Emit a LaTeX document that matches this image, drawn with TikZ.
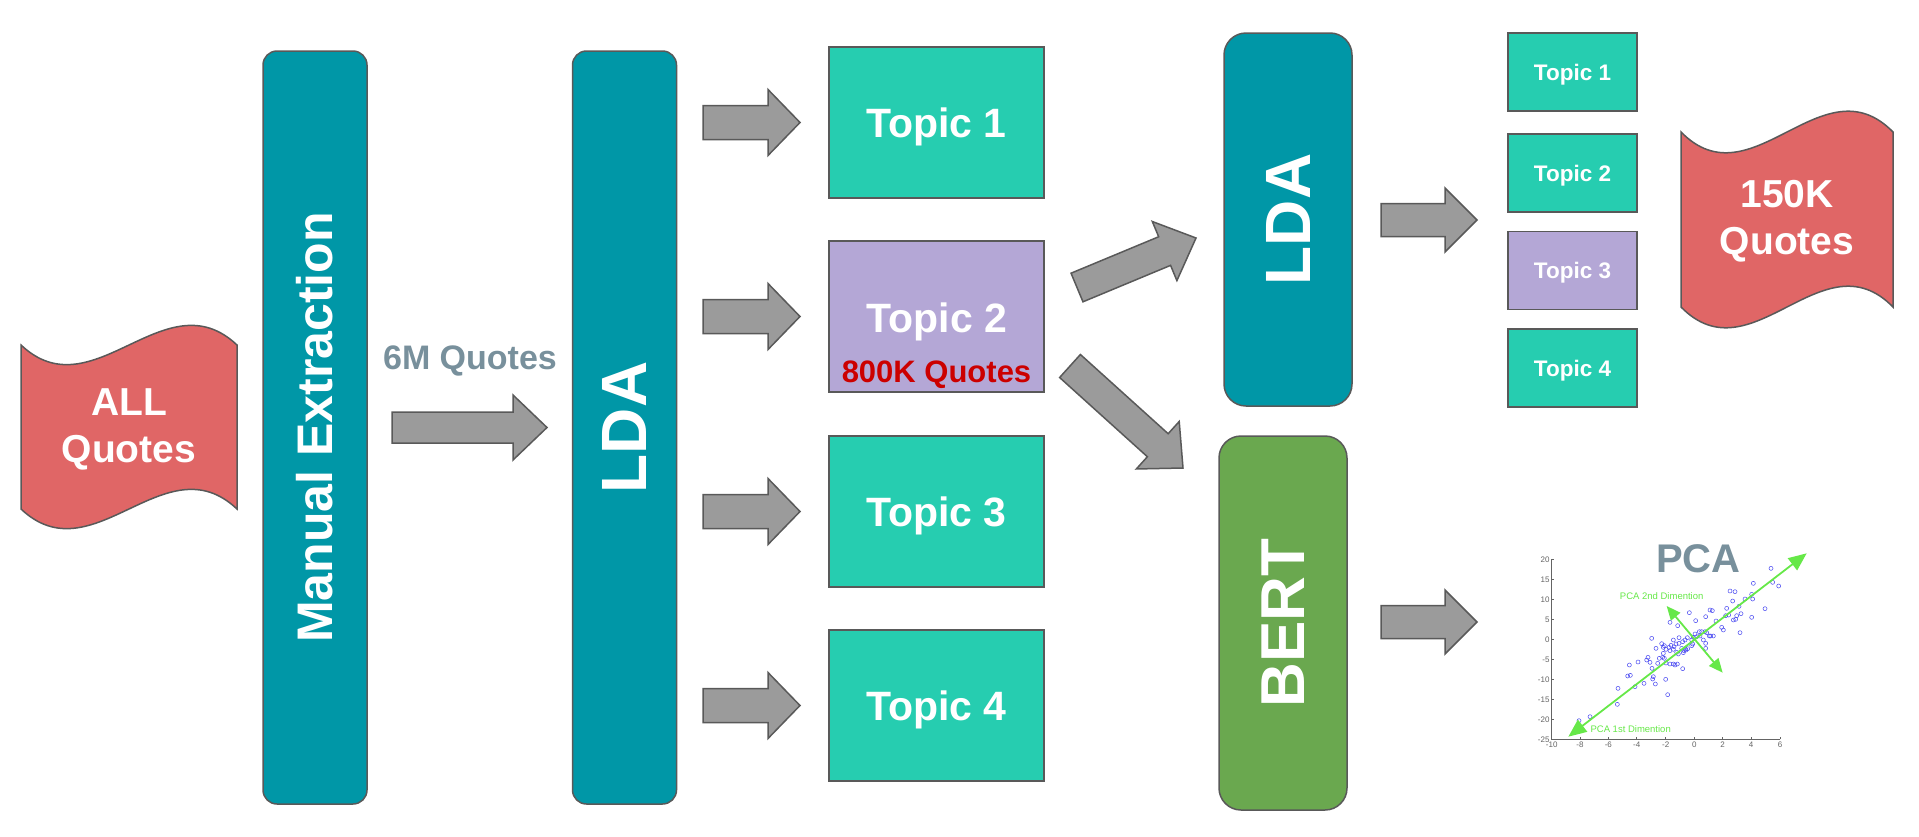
\documentclass[tikz,border=0pt]{standalone}
\usepackage{fontspec}
\setmainfont{Liberation Sans}
\usetikzlibrary{calc,arrows.meta}
\definecolor{tealc}{RGB}{0,151,167}
\definecolor{topicc}{RGB}{38,205,176}
\definecolor{purplec}{RGB}{180,167,214}
\definecolor{flagc}{RGB}{224,102,102}
\definecolor{bertc}{RGB}{106,168,79}
\definecolor{slatec}{RGB}{120,144,156}
\definecolor{darkredc}{RGB}{204,0,0}
\definecolor{edgec}{RGB}{89,89,89}
\definecolor{arrowc}{RGB}{155,155,155}
\definecolor{pcagc}{RGB}{102,232,72}
\definecolor{ptc}{RGB}{70,70,240}
\definecolor{axisc}{RGB}{100,100,100}

% block arrow: #1 tail coord, #2 tip coord, #3 shaft half width, #4 head half width, #5 head length
\newcommand{\blockarrow}[5]{%
  \coordinate (#1-#2) at ($(#2)!#5!(#1)$);
  \draw[blockarr] ($(#1)!#3!90:(#2)$) -- ($(#1-#2)!#3!90:(#2)$) -- ($(#1-#2)!#4!90:(#2)$) -- (#2)
     -- ($(#1-#2)!#4!-90:(#2)$) -- ($(#1-#2)!#3!-90:(#2)$) -- ($(#1)!#3!-90:(#2)$) -- cycle;
}
% wave (flag) shape: #1 left, #2 top-edge y, #3 width, #4 straight height, #5 control offset
\newcommand{\waveshape}[5]{%
  \draw[flagshape] (#1,#2) .. controls ({#1+#3/3},{#2+#5}) and ({#1+2*#3/3},{#2-#5}) .. ({#1+#3},#2)
     -- ({#1+#3},{#2+#4}) .. controls ({#1+2*#3/3},{#2+#4-#5}) and ({#1+#3/3},{#2+#4+#5}) .. (#1,{#2+#4}) -- cycle;
}

\begin{document}
\begin{tikzpicture}[x=1pt,y=-1pt,
  boxline/.style={draw=edgec, line width=1.5pt},
  tallbox/.style={boxline, fill=tealc, rounded corners=14pt, rotate=90, text=white,
     minimum width=753pt, minimum height=104pt, inner sep=0pt,
     font=\fontsize{64}{70}\selectfont\bfseries},
  sidebox/.style={boxline, rounded corners=22pt, rotate=90, text=white,
     minimum height=128pt, inner sep=0pt, font=\fontsize{64}{70}\selectfont\bfseries},
  topicbox/.style={boxline, fill=topicc, minimum width=215pt, minimum height=151pt, inner sep=0pt,
     text=white, text depth=0pt, font=\fontsize{41}{48}\selectfont\bfseries},
  smallbox/.style={boxline, fill=topicc, minimum width=129pt, minimum height=78pt, inner sep=0pt,
     text=white, text depth=0pt, font=\fontsize{22.5}{26}\selectfont\bfseries},
  blockarr/.style={draw=edgec, fill=arrowc, line width=1.5pt, line join=miter},
  flagshape/.style={draw=edgec, fill=flagc, line width=1.5pt},
  flagtext/.style={text=white, align=center, font=\fontsize{39}{47}\selectfont\bfseries},
  ticklab/.style={text=axisc, inner sep=1pt, font=\fontsize{8}{9}\selectfont},
  pcalab/.style={text=pcagc, inner sep=0pt, font=\fontsize{9.5}{11}\selectfont},
  pcaline/.style={draw=pcagc, line width=1.8pt}
]
\useasboundingbox (0,0) rectangle (1919,836);

% ---- input flag
\waveshape{21}{345}{216}{164}{68}
\node[flagtext] (allq) at (129,429) {ALL\\Quotes};

% ---- tall boxes
\node[tallbox, font=\fontsize{50}{60}\selectfont\bfseries] (me) at (315,427.5) {Manual Extraction};
\node[tallbox] (lda1) at (624.5,427.5) {LDA};

% ---- 6M label and arrow
\node[text=slatec, text depth=0pt, font=\fontsize{34}{40}\selectfont\bfseries] (sixm) at (470,357.5) {6M Quotes};
\coordinate (a0s) at (392,427.5);
\coordinate (a0e) at (547,427.5);
\blockarrow{a0s}{a0e}{15.5pt}{32.5pt}{34pt}

% ---- topic boxes
\node[topicbox] (t1) at (936.5,122.5) {Topic 1};
\node[topicbox, fill=purplec] (t2) at (936.5,316.5) {};
\node[text=white, anchor=base, font=\fontsize{41}{48}\selectfont\bfseries] (t2a) at (937,332) {Topic 2};
\node[text=darkredc, anchor=base, font=\fontsize{31}{36}\selectfont\bfseries] (t2b) at (936.5,382) {800K Quotes};
\node[topicbox] (t3) at (936.5,511.5) {Topic 3};
\node[topicbox] (t4) at (936.5,705.5) {Topic 4};

\foreach \i/\yy in {1/122.5, 2/316.5, 3/511.5, 4/705.5}{
  \coordinate (a\i s) at (703,\yy);
  \coordinate (a\i e) at (800,\yy);
  \blockarrow{a\i s}{a\i e}{17pt}{33pt}{32pt}
}

% ---- diagonal arrows
\coordinate (dus) at (1077,287.5);
\coordinate (due) at (1196,238);
\blockarrow{dus}{due}{15.5pt}{32pt}{34pt}
\coordinate (dds) at (1070,366);
\coordinate (dde) at (1183,468);
\blockarrow{dds}{dde}{15.5pt}{32pt}{34pt}

% ---- LDA 2 and BERT
\node[sidebox, fill=tealc, minimum width=373pt] (lda2) at (1288,219.5) {LDA};
\node[sidebox, fill=bertc, minimum width=374pt, font=\fontsize{62}{70}\selectfont\bfseries] (bert) at (1283,623) {BERT};

\coordinate (b1s) at (1381,220);
\coordinate (b1e) at (1477,220);
\blockarrow{b1s}{b1e}{16.5pt}{32pt}{32pt}
\coordinate (b2s) at (1381,622);
\coordinate (b2e) at (1477,622);
\blockarrow{b2s}{b2e}{16.5pt}{32pt}{32pt}

% ---- small topic boxes
\node[smallbox] (s1) at (1572.5,72) {Topic 1};
\node[smallbox] (s2) at (1572.5,173) {Topic 2};
\node[smallbox, fill=purplec] (s3) at (1572.5,270.5) {Topic 3};
\node[smallbox] (s4) at (1572.5,368) {Topic 4};

% ---- output flag
\waveshape{1681}{132}{212}{175}{72}
\node[flagtext] (q150) at (1787,221) {150K\\Quotes};

% ---- PCA plot
\begin{scope}[shift={(1500,530)}, scale=1/3]
  \draw[axisc, line width=0.8pt] (155,88) -- (155,628) -- (840,628);
  \foreach \yy/\lab in {88/20,148/15,208/10,268/5,328/0,388/-5,448/-10,508/-15,568/-20,628/-25}{
    \draw[axisc, line width=0.5pt] (155,\yy) -- (163,\yy);
    \node[ticklab, anchor=east] (yl\yy) at (152,\yy) {\lab};
  }
  \foreach \xx/\lab in {155/-10,240/-8,325/-6,410/-4,497/-2,583/0,668/2,753/4,840/6}{
    \draw[axisc, line width=0.5pt] (\xx,628) -- (\xx,620);
    \node[ticklab, anchor=north] (xl\xx) at (\xx,632) {\lab};
  }
  \foreach \px/\py in {813/115,760/160,818/157,836/168,690/183,705/185,698/213,755/193,758/207,
     735/207,795/236,717/229,680/235,677/257,686/255,710/257,723/251,755/262,700/270,707/268,
     665/292,670/300,720/308,648/273,568/248,630/240,637/242,617/260,587/272,510/277,533/287,
     598/305,605/305,615/305,620/308,628/318,632/318,640/318,600/318,585/312,590/320,580/322,
     610/330,617/340,575/330,578/342,617/355,562/323,555/330,575/347,548/335,537/340,528/342,
     520/330,537/323,455/325,485/341,490/352,513/346,522/350,520/358,545/355,556/357,558/360,
     563/356,552/362,550/368,535/372,530/367,510/362,507/352,498/358,490/370,468/355,493/347,
     493/385,488/382,478/385,498/399,510/402,520/402,525/405,532/402,548/416,444/382,440/390,
     450/397,456/415,473/400,460/440,466/462,414/396,388/405,383/438,391/436,432/460,458/447,
     497/448,503/494,405/470,354/475,352/523,270/560,237/572}{
    \draw[ptc, line width=0.5pt] (\px,\py) circle[radius=6];
  }
  \coordinate (p1a) at (205,620);
  \coordinate (p1b) at (920,70);
  \draw[pcaline, {Triangle[length=18pt,width=15pt]}-{Triangle[length=18pt,width=15pt]}] (p1a) -- (p1b);
  \coordinate (p2a) at (500,228);
  \coordinate (p2b) at (668,428);
  \draw[pcaline, {Triangle[length=14pt,width=12pt]}-{Triangle[length=14pt,width=12pt]}] (p2a) -- (p2b);
  \node[pcalab] (l2) at (485,198) {PCA 2nd Dimention};
  \node[pcalab] (l1) at (392,598) {PCA 1st Dimention};
  \node[text=slatec, text depth=0pt, font=\fontsize{40}{46}\selectfont\bfseries] (pca) at (595,86) {PCA};
\end{scope}
\end{tikzpicture}
\end{document}
